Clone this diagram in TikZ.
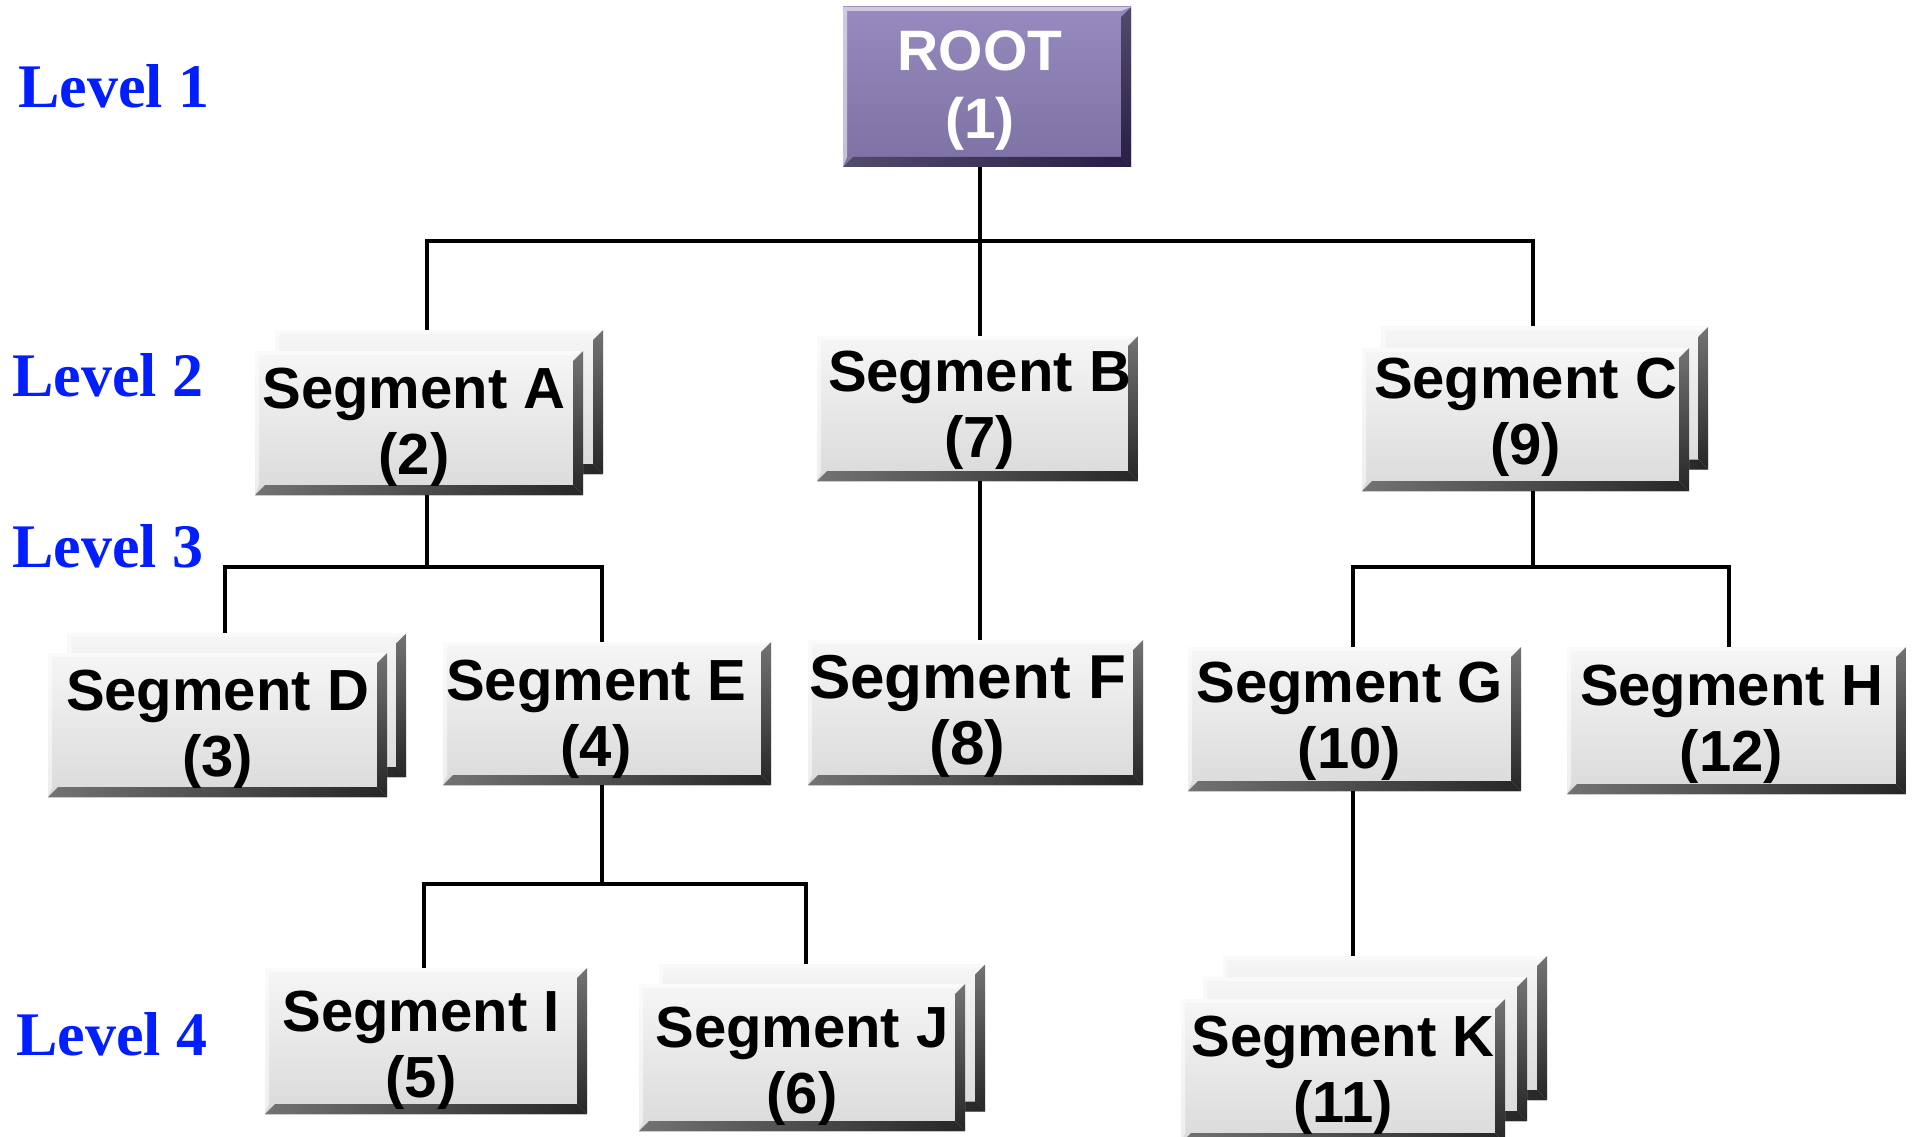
\documentclass[tikz,border=0pt]{standalone}
\usepackage{fontspec}
\setmainfont{Liberation Serif}
\newfontfamily\arialf{Liberation Sans}
\definecolor{lvlblue}{RGB}{0,30,255}
\definecolor{rootfill}{RGB}{126,114,164}
\definecolor{roottop}{RGB}{150,138,190}
\definecolor{rootdark}{RGB}{40,30,70}
\definecolor{facetop}{RGB}{246,246,246}
\definecolor{facebot}{RGB}{218,218,218}
\begin{document}
\begin{tikzpicture}[x=1pt,y=-1pt,
  bevel/.style n args={3}{path picture={
    \shade[top color=#1, bottom color=#2]
      (path picture bounding box.north east) -- (path picture bounding box.south east)
      -- ([xshift=-10pt,yshift=10pt]path picture bounding box.south east)
      -- ([xshift=-10pt,yshift=-10pt]path picture bounding box.north east) -- cycle;
    \shade[left color=#1, right color=#2]
      (path picture bounding box.south west) -- (path picture bounding box.south east)
      -- ([xshift=-10pt,yshift=10pt]path picture bounding box.south east)
      -- ([xshift=10pt,yshift=10pt]path picture bounding box.south west) -- cycle;
    \fill[#3, opacity=.55]
      (path picture bounding box.north west) -- (path picture bounding box.north east)
      -- ([xshift=-10pt,yshift=-4pt]path picture bounding box.north east)
      -- ([xshift=4pt,yshift=-4pt]path picture bounding box.north west) -- cycle;
    \fill[#3, opacity=.55]
      (path picture bounding box.north west) -- (path picture bounding box.south west)
      -- ([xshift=4pt,yshift=10pt]path picture bounding box.south west)
      -- ([xshift=4pt,yshift=-4pt]path picture bounding box.north west) -- cycle;
  }},
  seg/.style={rectangle, inner sep=0pt,
    top color=facetop, bottom color=facebot,
    bevel={black!55}{black!85}{white}},
  rootbox/.style={rectangle, inner sep=0pt,
    top color=roottop, bottom color=rootfill,
    bevel={rootdark!80}{rootdark}{white}},
  segtext/.style={inner sep=0pt, align=center, text=black,
    font=\arialf\bfseries\fontsize{58}{66}\selectfont},
  bigtext/.style={segtext, font=\arialf\bfseries\fontsize{62}{66}\selectfont},
  roottext/.style={inner sep=0pt, align=center, text=white,
    font=\arialf\bfseries\fontsize{57}{68}\selectfont},
  lvl/.style={anchor=west, inner sep=0pt, text=lvlblue,
    font=\bfseries\fontsize{62}{70}\selectfont},
  lnk/.style={line width=4pt, black}
]
\useasboundingbox (0,0) rectangle (1915,1137);
\clip (0,0) rectangle (1915,1137);
\fill[white] (0,0) rectangle (1915,1137);

% level labels
\node[lvl] (L1) at (18,86) {Level 1};
\node[lvl] (L2) at (12,375) {Level 2};
\node[lvl] (L3) at (12,546) {Level 3};
\node[lvl] (L4) at (16,1034) {Level 4};

% bus coordinates
\coordinate (busA) at (427,241);
\coordinate (busM) at (980,241);
\coordinate (busC) at (1533,241);
\coordinate (jA) at (427,567);
\coordinate (jD) at (225,567);
\coordinate (jE) at (602,567);
\coordinate (jC) at (1533,567);
\coordinate (jG) at (1353,567);
\coordinate (jH) at (1729,567);
\coordinate (jEE) at (602,884);
\coordinate (jI) at (424,884);
\coordinate (jJ) at (806,884);

% boxes (back copies first)
\node[seg, minimum width=328pt, minimum height=144pt] (Aback) at (439,402) {};
\node[seg, minimum width=327pt, minimum height=143pt] (Cback) at (1545,398) {};
\node[seg, minimum width=339pt, minimum height=144pt] (Dback) at (237,705) {};
\node[seg, minimum width=326pt, minimum height=147pt] (Jback) at (822,1038) {};
\node[seg, minimum width=324pt, minimum height=144pt] (Kback) at (1385,1028) {};
\node[seg, minimum width=324pt, minimum height=144pt] (Kmid) at (1365,1049) {};

\node[rootbox, minimum width=288pt, minimum height=160pt] (root) at (987,87) {};
\node[seg, minimum width=328pt, minimum height=144pt] (A) at (419,423) {};
\node[seg, minimum width=321pt, minimum height=145pt] (B) at (977.5,408.5) {};
\node[seg, minimum width=327pt, minimum height=143pt] (C) at (1525.5,419.5) {};
\node[seg, minimum width=339pt, minimum height=144pt] (D) at (217.5,725) {};
\node[seg, minimum width=328pt, minimum height=143pt] (E) at (607,713.5) {};
\node[seg, minimum width=335pt, minimum height=145pt] (F) at (975.5,712.5) {};
\node[seg, minimum width=333pt, minimum height=144pt] (G) at (1354.5,719) {};
\node[seg, minimum width=339pt, minimum height=147pt] (H) at (1736.5,720.5) {};
\node[seg, minimum width=322pt, minimum height=146pt] (I) at (426,1041) {};
\node[seg, minimum width=326pt, minimum height=147pt] (J) at (802,1057.5) {};
\node[seg, minimum width=324pt, minimum height=144pt] (K) at (1343,1071) {};

% box texts
\node[roottext] (rootT) at ([shift={(-7,4)}]root.center) {ROOT\\(1)};
\node[segtext] (AT) at ([shift={(-5,4)}]A.center) {Segment A\\(2)};
\node[segtext] (BT) at ([shift={(2,2)}]B.center) {Segment B\\(7)};
\node[segtext] (CT) at ([shift={(0,-2)}]C.center) {Segment C\\(9)};
\node[segtext] (DT) at ([shift={(0,4)}]D.center) {Segment D\\(3)};
\node[segtext] (ET) at ([shift={(-11,6)}]E.center) {Segment E\\(4)};
\node[bigtext] (FT) at ([shift={(-8,4)}]F.center) {Segment F\\(8)};
\node[segtext] (GT) at ([shift={(-5,2)}]G.center) {Segment G\\(10)};
\node[segtext] (HT) at ([shift={(-5,4)}]H.center) {Segment H\\(12)};
\node[segtext] (IT) at ([shift={(-5,9)}]I.center) {Segment I\\(5)};
\node[segtext] (JT) at ([shift={(0,9)}]J.center) {Segment J\\(6)};
\node[segtext] (KT) at ([shift={(0,4)}]K.center) {Segment K\\(11)};

% connectors
\draw[lnk] (busM |- root.south) -- (busM |- B.north);
\draw[lnk] (busA |- Aback.north) -- (busA) -- (busC) -- (busC |- Cback.north);
\draw[lnk] (busA |- A.south) -- (jA);
\draw[lnk] (jD |- Dback.north) -- (jD) -- (jE) -- (jE |- E.north);
\draw[lnk] (busM |- B.south) -- (busM |- F.north);
\draw[lnk] (jC |- C.south) -- (jC);
\draw[lnk] (jG |- G.north) -- (jG) -- (jH) -- (jH |- H.north);
\draw[lnk] (jEE |- E.south) -- (jEE);
\draw[lnk] (jI |- I.north) -- (jI) -- (jJ) -- (jJ |- Jback.north);
\draw[lnk] (jG |- G.south) -- (jG |- Kback.north);
\end{tikzpicture}
\end{document}
